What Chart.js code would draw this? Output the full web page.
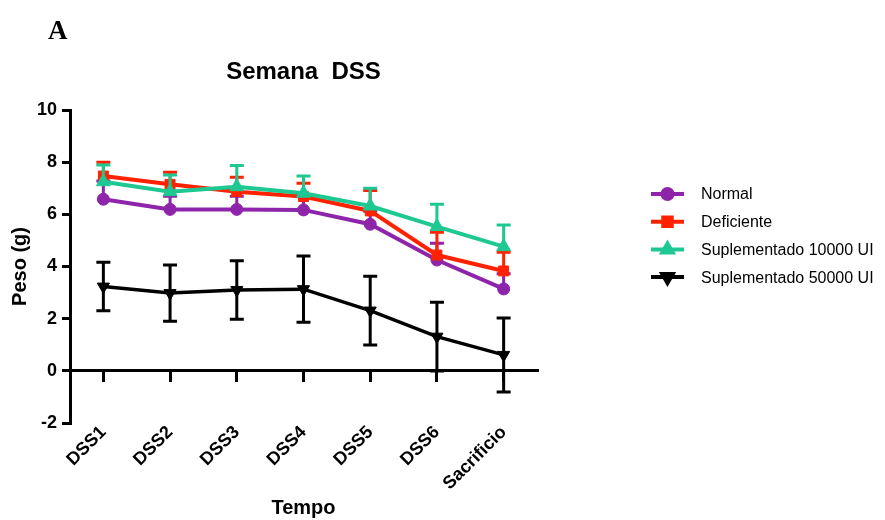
<!DOCTYPE html>
<html>
<head>
<meta charset="utf-8">
<script src="https://cdn.jsdelivr.net/npm/chart.js@4.4.1/dist/chart.umd.min.js"></script>
<style>
  html, body { margin: 0; padding: 0; background: #fff; }
  #wrap { width: 885px; height: 520px; }
</style>
</head>
<body>
<div id="wrap"><canvas id="chart" width="885" height="520"></canvas></div>
<script>
const categories = ["DSS1", "DSS2", "DSS3", "DSS4", "DSS5", "DSS6", "Sacrificio"]

const normal        = [6.58, 6.19, 6.19, 6.17, 5.62, 4.25, 3.14]
const normalErr     = [0.70, 0.50, 0.50, 0.55, 0.50, 0.64, 0.58]
const deficiente    = [7.47, 7.15, 6.87, 6.68, 6.13, 4.44, 3.83]
const deficienteErr = [0.53, 0.46, 0.55, 0.51, 0.78, 0.87, 0.72]
const sup10000      = [7.25, 6.87, 7.06, 6.81, 6.32, 5.53, 4.76]
const sup10000Err   = [0.64, 0.64, 0.81, 0.66, 0.68, 0.86, 0.83]
const sup50000      = [3.23, 2.98, 3.10, 3.13, 2.31, 1.31, 0.61]
const sup50000Err   = [0.93, 1.08, 1.12, 1.27, 1.32, 1.32, 1.42]

const yMin = -2
const yMax = 10
const yStep = 2

const SANS = "'Liberation Sans', Arial, Helvetica, sans-serif"

// error bars, drawn right after each dataset so the stacking follows the draw order
const errorBars = {
  id: "errorBars",
  afterDatasetDraw(chart, args) {
    const ds   = chart.data.datasets[args.index]
    const ctx  = chart.ctx
    const yScl = chart.scales.y
    ctx.save()
    ctx.strokeStyle = ds.borderColor
    ctx.lineWidth = 3
    args.meta.data.forEach((pt, i) => {
      const v = ds.data[i]
      const e = ds.errors[i]
      const top = yScl.getPixelForValue(v + e)
      const bot = ds.bothSides ? yScl.getPixelForValue(v - e) : pt.y
      ctx.beginPath()
      ctx.moveTo(pt.x, top)
      ctx.lineTo(pt.x, bot)
      ctx.moveTo(pt.x - 7, top)
      ctx.lineTo(pt.x + 7, top)
      if (ds.bothSides) {
        ctx.moveTo(pt.x - 7, bot)
        ctx.lineTo(pt.x + 7, bot)
      }
      ctx.stroke()
    })
    ctx.restore()
  }
}

// panel letter, title, axis titles and the legend on the right
const annotations = {
  id: "annotations",
  afterDraw(chart) {
    const ctx = chart.ctx
    const area = chart.chartArea
    ctx.save()
    ctx.fillStyle = "#000"

    ctx.font = "bold 27px 'Liberation Serif', 'Times New Roman', serif"
    ctx.textAlign = "left"
    ctx.textBaseline = "alphabetic"
    ctx.fillText("A", 48, 39)

    ctx.font = "bold 24px " + SANS
    ctx.textAlign = "center"
    ctx.textBaseline = "middle"
    ctx.fillText("Semana  DSS", (area.left + area.right) / 2, 72)

    ctx.font = "bold 20px " + SANS
    ctx.fillText("Tempo", (area.left + area.right) / 2, 508)

    ctx.save()
    ctx.translate(20, (area.top + area.bottom) / 2)
    ctx.rotate(-Math.PI / 2)
    ctx.fillText("Peso (g)", 0, 0)
    ctx.restore()

    ctx.font = "16px " + SANS
    ctx.textAlign = "left"
    chart.data.datasets.forEach((ds, i) => {
      const y = 194 + i * 27.7
      ctx.strokeStyle = ds.borderColor
      ctx.lineWidth = 4
      ctx.beginPath()
      ctx.moveTo(651, y)
      ctx.lineTo(684, y)
      ctx.stroke()
      ctx.fillStyle = ds.borderColor
      ctx.strokeStyle = ds.borderColor
      Chart.helpers.drawPoint(ctx, {
        pointStyle: ds.pointStyle,
        rotation: ds.pointRotation || 0,
        radius: ds.pointStyle === "circle" ? 5 : 6,
        borderWidth: 1
      }, 667.5, y)
      ctx.fillStyle = "#000"
      ctx.fillText(ds.label, 701, y + 1)
    })
    ctx.restore()
  }
}

const makeSet = (label, data, errors, color, style, radius, opts) => Object.assign({
  label: label,
  data: data,
  errors: errors,
  borderColor: color,
  backgroundColor: color,
  pointBackgroundColor: color,
  pointBorderColor: color,
  borderWidth: 4,
  pointStyle: style,
  pointRadius: radius,
  pointBorderWidth: 1,
  tension: 0,
  fill: false
}, opts)

new Chart(document.getElementById("chart").getContext("2d"), {
  type: "line",
  data: {
    labels: categories,
    datasets: [
      makeSet("Normal", normal, normalErr, "#8e24aa", "circle", 6, { order: 4 }),
      makeSet("Deficiente", deficiente, deficienteErr, "#ff2200", "rect", 7, { order: 3 }),
      makeSet("Suplementado 10000 UI", sup10000, sup10000Err, "#1ec893", "triangle", 8, { order: 2 }),
      makeSet("Suplementado 50000 UI", sup50000, sup50000Err, "#000000", "triangle", 7,
        { order: 1, pointRotation: 180, borderWidth: 3.5, bothSides: true })
    ]
  },
  options: {
    responsive: false,
    animation: false,
    devicePixelRatio: 1,
    layout: { padding: { top: 110, left: 0, right: 348, bottom: 97 } },
    plugins: {
      legend: { display: false },
      tooltip: { enabled: false }
    },
    scales: {
      x: {
        type: "category",
        position: { y: 0 },
        offset: true,
        grid: { drawOnChartArea: false, drawTicks: true, tickLength: 10, lineWidth: 3, color: "#000" },
        border: { display: true, width: 3, color: "#000" },
        ticks: {
          autoSkip: false,
          maxRotation: 45,
          minRotation: 45,
          padding: 41,
          color: "#000",
          font: { family: SANS, size: 18, weight: "bold" }
        }
      },
      y: {
        min: yMin,
        max: yMax,
        afterFit: (s) => { s.width = 70 },
        grid: { drawOnChartArea: false, drawTicks: true, tickLength: 8, lineWidth: 3, color: "#000" },
        border: { display: true, width: 3, color: "#000" },
        ticks: {
          stepSize: yStep,
          padding: 5,
          color: "#000",
          font: { family: SANS, size: 18, weight: "bold" }
        }
      }
    }
  },
  plugins: [errorBars, annotations]
})
</script>
</body>
</html>
